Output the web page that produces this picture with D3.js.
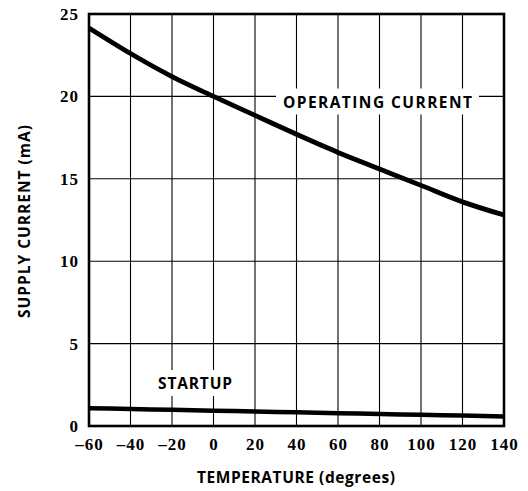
<!DOCTYPE html>
<html><head><meta charset="utf-8">
<script src="https://cdn.jsdelivr.net/npm/d3@7"></script>
<style>body{margin:0;background:#fff}</style>
</head><body>
<svg id="c" width="528" height="491"></svg>
<script>
const temps = [-60,-40,-20,0,20,40,60,80,100,120,140];
const operating = [24.15,22.6,21.2,20.0,18.85,17.7,16.6,15.6,14.6,13.6,12.8];
const startup = [1.08,1.03,0.98,0.93,0.88,0.83,0.78,0.73,0.68,0.63,0.58];
const xTicks = [-60,-40,-20,0,20,40,60,80,100,120,140];
const yTicks = [0,5,10,15,20,25];

const svg = d3.select('#c');
const L=89,R=504,T=14,B=426;
const x = d3.scaleLinear().domain([-60,140]).range([L,R]);
const y = d3.scaleLinear().domain([0,25]).range([B,T]);
const serif = '"Liberation Serif", "DejaVu Serif", serif';
const sans = '"Open Sans", Lato, sans-serif';

// grid
svg.append('g').selectAll('line').data(xTicks).join('line')
  .attr('x1',d=>x(d)).attr('x2',d=>x(d)).attr('y1',T).attr('y2',B)
  .attr('stroke','#000').attr('stroke-width',1.1);
svg.append('g').selectAll('line').data(yTicks).join('line')
  .attr('x1',L).attr('x2',R).attr('y1',d=>y(d)).attr('y2',d=>y(d))
  .attr('stroke','#000').attr('stroke-width',1.1);
svg.append('rect').attr('x',L).attr('y',T).attr('width',R-L).attr('height',B-T)
  .attr('fill','none').attr('stroke','#000').attr('stroke-width',2.6);

// axes labels
const xa = d3.axisBottom(x).tickValues(xTicks).tickSize(0).tickPadding(12)
  .tickFormat(d=> d<0 ? '\u2013'+Math.abs(d) : d);
svg.append('g').attr('transform',`translate(0,${B})`).call(xa)
  .call(g=>g.select('.domain').remove())
  .selectAll('text').attr('font-family',serif).attr('font-weight','bold').attr('font-size',17)
  .attr('letter-spacing',1).attr('fill','#000');
const ya = d3.axisLeft(y).tickValues(yTicks).tickSize(0).tickPadding(10);
svg.append('g').attr('transform',`translate(${L},0)`).call(ya)
  .call(g=>g.select('.domain').remove())
  .selectAll('text').attr('font-family',serif).attr('font-weight','bold').attr('font-size',17)
  .attr('letter-spacing',1).attr('fill','#000');

const line = d3.line().x((d,i)=>x(temps[i])).y(d=>y(d)).curve(d3.curveMonotoneX);
svg.append('path').attr('d',line(operating)).attr('fill','none').attr('stroke','#000').attr('stroke-width',4.8);
svg.append('path').attr('d',line(startup)).attr('fill','none').attr('stroke','#000').attr('stroke-width',4.5);

// labels with white background
function lab(txt,cx,cy,len){
  const t = svg.append('text').attr('x',cx).attr('y',cy).attr('text-anchor','middle')
    .attr('font-family',sans).attr('font-weight','bold').attr('font-size',15.5)
    .attr('textLength',len).attr('lengthAdjust','spacing').text(txt);
  const bb = t.node().getBBox();
  svg.append('rect').attr('x',bb.x-7).attr('y',bb.y-2).attr('width',bb.width+14).attr('height',bb.height+4).attr('fill','#fff');
  t.raise();
}
lab('OPERATING CURRENT',377.5,107.5,189);
lab('STARTUP',195,389,74);

svg.append('text').attr('x',296).attr('y',483).attr('text-anchor','middle')
  .attr('font-family',sans).attr('font-weight','bold').attr('font-size',15.5)
  .attr('textLength',198).attr('lengthAdjust','spacing').text('TEMPERATURE (degrees)');
svg.append('text').attr('transform',`translate(30,221.5) rotate(-90)`).attr('text-anchor','middle')
  .attr('font-family',sans).attr('font-weight','bold').attr('font-size',15.5)
  .attr('textLength',193).attr('lengthAdjust','spacing').text('SUPPLY CURRENT (mA)');
</script>
</body></html>
